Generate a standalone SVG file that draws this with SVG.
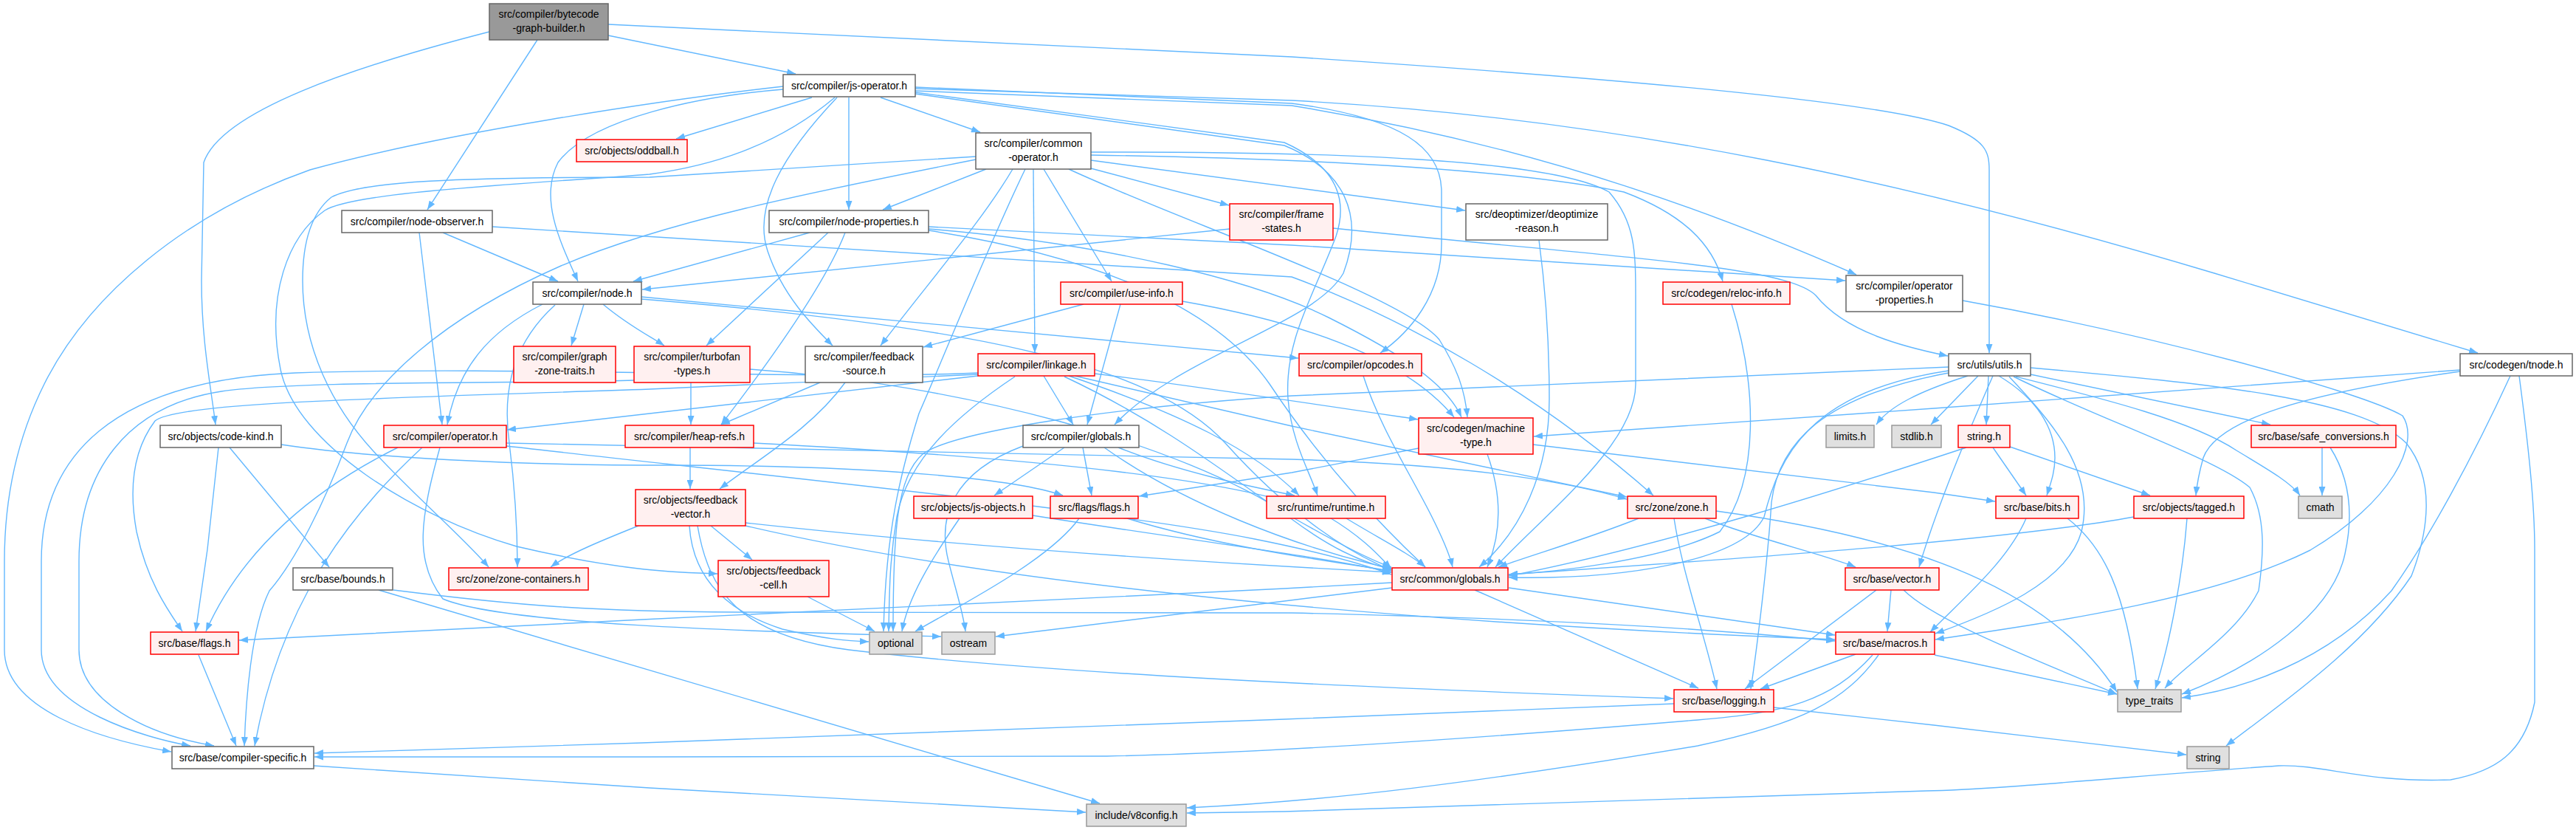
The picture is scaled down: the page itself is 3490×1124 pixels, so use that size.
<svg xmlns="http://www.w3.org/2000/svg" width="3490" height="1124" viewBox="0 0 3490 1124">
<style>
.e{fill:none;stroke:#63b8ff;stroke-width:1.4;marker-end:url(#a)}
.w rect{fill:#ffffff;stroke:#666666;stroke-width:1.5}
.r rect{fill:#fff0f0;stroke:#ff0000;stroke-width:1.5}
.g rect{fill:#e0e0e0;stroke:#999999;stroke-width:1.5}
.root rect{fill:#999999;stroke:#666666;stroke-width:1.5}
text{font-family:"Liberation Sans",Arial,sans-serif;font-size:14px;fill:#000;text-anchor:middle}
</style>
<defs>
<marker id="a" viewBox="0 0 12 9" refX="12" refY="4.5" markerWidth="12" markerHeight="9" markerUnits="userSpaceOnUse" orient="auto"><path d="M0,0 L12,4.5 L0,9 z" fill="#63b8ff"/></marker>
</defs>
<rect width="3490" height="1124" fill="#ffffff"/>
<g id="edges">
<path class="e" d="M824,48 L1078,100"/>
<path class="e" d="M728,54 L579,284"/>
<path class="e" d="M663,43 C480,90 300,150 276,220 L273,380 C273,460 285,520 292,575"/>
<path class="e" d="M824,33 L1750,77 C2250,110 2550,140 2640,170 C2690,190 2695,205 2695,230 L2695,478"/>
<path class="e" d="M1100,132 L916,188"/>
<path class="e" d="M1193,132 L1328,179"/>
<path class="e" d="M1150,132 L1150,284"/>
<path class="e" d="M1061,117 C900,135 600,180 420,230 C250,290 120,400 60,520 C20,600 6,680 6,760 L6,880 C6,960 130,1000 232,1018"/>
<path class="e" d="M1061,121 C950,130 800,160 756,220 C730,270 760,330 783,381"/>
<path class="e" d="M1134,132 C1060,210 1020,280 1040,340 C1060,400 1100,440 1128,468"/>
<path class="e" d="M1131,132 C1050,200 960,225 880,236 C700,250 480,260 440,285 C390,320 360,400 380,500 C400,600 560,700 700,740 C850,775 920,775 972,777"/>
<path class="e" d="M1240,120 L1750,136 C2200,160 2600,250 3000,370 L3357,478"/>
<path class="e" d="M1240,123 L1750,143 C2100,200 2350,300 2515,372"/>
<path class="e" d="M1240,118 L1750,140 C1900,160 1953,200 1953,260 L1953,330 C1953,400 1910,450 1870,478"/>
<path class="e" d="M1240,125 L1740,193 C1800,220 1830,260 1810,320 C1780,400 1740,460 1745,540 C1750,600 1775,640 1785,671"/>
<path class="e" d="M1240,127 L1740,197 C1820,230 1850,290 1820,370 C1780,440 1600,480 1510,575"/>
<path class="e" d="M1336,229 L1196,284"/>
<path class="e" d="M1478,228 L1665,278"/>
<path class="e" d="M1478,217 L1985,285"/>
<path class="e" d="M1414,229 L1506,381"/>
<path class="e" d="M1400,229 L1402,478"/>
<path class="e" d="M1372,229 C1330,300 1260,380 1193,468"/>
<path class="e" d="M1389,229 C1340,330 1280,480 1245,560 C1220,640 1200,720 1197,855"/>
<path class="e" d="M1478,210 C1800,215 2050,230 2200,260 C2280,290 2320,330 2334,381"/>
<path class="e" d="M1478,206 C1800,205 2100,215 2180,260 C2215,300 2216,340 2216,400 L2216,520 C2216,600 2100,690 2026,768"/>
<path class="e" d="M1448,229 C1600,300 1900,400 1950,460 C1975,500 1985,530 1988,565"/>
<path class="e" d="M1322,212 L880,240 C620,240 490,245 449,267 C420,290 410,330 410,380 C410,470 450,550 505,610 C560,670 630,730 662,768"/>
<path class="e" d="M1322,216 C1100,260 900,300 760,360 C600,430 500,520 470,600 C440,680 400,760 365,800 C340,850 333,950 331,1010"/>
<path class="e" d="M1097,315 L858,381"/>
<path class="e" d="M1122,315 L957,468"/>
<path class="e" d="M1145,315 C1120,380 1050,480 977,575"/>
<path class="e" d="M1258,307 L1750,332 L2500,380"/>
<path class="e" d="M1258,310 C1500,330 1700,380 1800,430 C1900,480 1960,520 1980,565"/>
<path class="e" d="M1258,312 C1500,350 1650,420 1720,520 C1800,640 1880,720 1931,768"/>
<path class="e" d="M600,315 L756,381"/>
<path class="e" d="M568,315 L599,575"/>
<path class="e" d="M667,307 L1750,375 C1900,430 2080,530 2240,671"/>
<path class="e" d="M791,412 L774,468"/>
<path class="e" d="M817,412 C850,440 880,455 900,468"/>
<path class="e" d="M735,412 C660,450 620,500 606,575"/>
<path class="e" d="M752,413 C700,460 679,520 690,600 C700,680 701,730 701,768"/>
<path class="e" d="M869,402 L1759,485"/>
<path class="e" d="M869,405 C1300,440 1560,490 1660,600 C1750,700 1830,750 1885,772"/>
<path class="e" d="M539,606 C430,660 330,740 279,855"/>
<path class="e" d="M572,606 C470,700 380,820 345,1010"/>
<path class="e" d="M596,606 C570,700 560,760 600,811 C680,845 1000,855 1275,862"/>
<path class="e" d="M686,600 L1750,622 C1950,628 2100,645 2204,676"/>
<path class="e" d="M686,604 C1000,640 1500,690 1700,730 C1800,750 1850,765 1885,778"/>
<path class="e" d="M296,606 L281,744 L265,855"/>
<path class="e" d="M311,606 L446,768"/>
<path class="e" d="M381,602 C500,620 700,630 900,630 C1200,630 1380,650 1440,671"/>
<path class="e" d="M533,799 C700,820 800,828 1000,829 L1750,830 C2200,840 2400,860 2486,868"/>
<path class="e" d="M513,799 L1490,1088"/>
<path class="e" d="M269,887 L320,1010"/>
<path class="e" d="M425,1037 L880,1067 L1471,1100"/>
<path class="e" d="M963,712 L1019,758"/>
<path class="e" d="M934,712 C937,760 960,820 1060,852 C1120,866 1150,868 1177,869"/>
<path class="e" d="M870,710 C820,730 770,750 746,768"/>
<path class="e" d="M1010,708 C1300,740 1600,760 1885,775"/>
<path class="e" d="M945,712 C960,800 1000,860 1150,880 C1400,910 1800,930 2267,946"/>
<path class="e" d="M1010,712 C1300,780 1800,840 2486,866"/>
<path class="e" d="M935,606 L935,662"/>
<path class="e" d="M1021,600 C1400,620 1700,650 1800,700 C1850,730 1870,755 1885,770"/>
<path class="e" d="M1111,518 L977,575"/>
<path class="e" d="M1145,518 C1100,580 1030,620 975,662"/>
<path class="e" d="M936,518 L936,575"/>
<path class="e" d="M859,515 C700,520 400,515 300,530 C170,550 107,640 107,760 L107,880 C107,950 200,995 290,1010"/>
<path class="e" d="M1325,509 L880,560 L687,582"/>
<path class="e" d="M1325,507 L880,527 C500,540 240,545 210,570 C180,610 174,660 185,720 C200,790 230,830 247,855"/>
<path class="e" d="M1325,505 C1100,515 700,495 400,505 C150,515 56,620 56,760 L56,880 C56,960 200,1000 258,1010"/>
<path class="e" d="M1414,509 L1454,575"/>
<path class="e" d="M1483,506 C1600,520 1800,550 1921,568"/>
<path class="e" d="M1456,509 L1750,577 C1950,620 2100,650 2204,673"/>
<path class="e" d="M1448,509 C1600,560 1700,610 1760,671"/>
<path class="e" d="M1442,510 C1570,570 1660,640 1750,703 C1800,740 1840,760 1885,771"/>
<path class="e" d="M1375,510 C1300,560 1230,620 1215,700 C1205,760 1205,800 1204,855"/>
<path class="e" d="M1442,606 L1347,671"/>
<path class="e" d="M1467,606 L1479,671"/>
<path class="e" d="M1515,606 C1600,640 1700,660 1754,671"/>
<path class="e" d="M1386,604 C1290,640 1270,700 1285,760 C1295,800 1305,830 1308,855"/>
<path class="e" d="M1496,606 C1600,680 1750,740 1885,770"/>
<path class="e" d="M1300,702 C1260,760 1230,810 1222,855"/>
<path class="e" d="M1399,698 C1600,730 1800,755 1885,775"/>
<path class="e" d="M1462,702 C1420,760 1300,820 1240,855"/>
<path class="e" d="M1527,702 C1650,740 1800,760 1885,773"/>
<path class="e" d="M1824,702 C1870,730 1910,750 1931,768"/>
<path class="e" d="M1847,509 C1870,580 1910,640 1940,700 C1960,740 1965,755 1968,768"/>
<path class="e" d="M1922,607 L1750,640 L1543,672"/>
<path class="e" d="M2077,602 L2620,667 L2703,679"/>
<path class="e" d="M2015,615 C2035,670 2035,720 2015,768"/>
<path class="e" d="M2346,412 C2380,520 2385,650 2330,720 C2250,760 2100,775 2044,778"/>
<path class="e" d="M2085,325 C2095,400 2099,480 2099,540 C2099,640 2060,720 2004,768"/>
<path class="e" d="M2220,702 C2150,730 2080,750 2030,768"/>
<path class="e" d="M2268,702 C2280,780 2310,860 2326,933"/>
<path class="e" d="M2310,702 C2380,730 2470,750 2514,768"/>
<path class="e" d="M2325,692 C2600,730 2780,800 2868,937"/>
<path class="e" d="M2700,606 L2745,671"/>
<path class="e" d="M2723,605 L2913,671"/>
<path class="e" d="M2664,606 C2500,660 2250,740 2044,780"/>
<path class="e" d="M2666,509 C2600,530 2560,550 2542,575"/>
<path class="e" d="M2680,509 L2616,575"/>
<path class="e" d="M2694,509 L2691,575"/>
<path class="e" d="M2708,509 C2760,540 2784,580 2784,620 C2784,640 2778,655 2773,671"/>
<path class="e" d="M2751,507 L3076,575"/>
<path class="e" d="M2731,510 C2850,540 2970,570 3030,610 C3080,640 3105,655 3116,671"/>
<path class="e" d="M2728,510 C2850,570 3000,620 3048,660 C3070,700 3067,750 3060,800 C3030,860 2960,900 2933,932"/>
<path class="e" d="M2751,498 C3000,520 3200,540 3260,600 C3300,650 3290,720 3267,780 C3200,880 3080,960 3016,1010"/>
<path class="e" d="M2722,510 C2778,570 2840,637 2820,720 C2800,790 2700,830 2622,858"/>
<path class="e" d="M2640,505 C2469,537 2410,600 2400,680 C2395,760 2380,880 2372,933"/>
<path class="e" d="M2700,509 C2660,600 2620,700 2600,768"/>
<path class="e" d="M2640,502 C2450,530 2410,620 2390,700 C2360,760 2200,785 2044,782"/>
<path class="e" d="M2640,497 L1750,536 C1500,552 1290,585 1250,615 C1215,645 1210,720 1210,855"/>
<path class="e" d="M3333,501 L2620,553 L2078,591"/>
<path class="e" d="M3333,503 C3115,534 3003,570 2985,620 C2978,645 2976,660 2975,671"/>
<path class="e" d="M3401,509 C3350,620 3290,730 3240,800 C3150,900 3030,935 2956,945"/>
<path class="e" d="M3413,509 C3425,600 3434,680 3434,744 L3434,951 C3420,1020 3380,1045 3320,1056 C3200,1060 3150,1035 3087,1037 C2900,1050 2700,1070 2610,1071 L1740,1099 L1608,1101"/>
<path class="e" d="M1998,799 L2301,932"/>
<path class="e" d="M2044,796 L2486,860"/>
<path class="e" d="M1886,789 L1740,797 L870,839 L324,867"/>
<path class="e" d="M1886,796 L1740,814 L1349,862"/>
<path class="e" d="M2542,799 L2364,933"/>
<path class="e" d="M2562,799 L2557,855"/>
<path class="e" d="M2579,799 C2620,840 2750,890 2868,940"/>
<path class="e" d="M2514,886 L2385,933"/>
<path class="e" d="M2537,887 C2480,950 2420,965 2300,975 C2000,1000 1700,1020 1500,1024 L880,1025 L426,1025"/>
<path class="e" d="M2545,887 C2500,950 2440,980 2300,1010 C2000,1060 1800,1085 1608,1094"/>
<path class="e" d="M2621,887 L2868,940"/>
<path class="e" d="M2268,953 L1740,974 L870,1006 L426,1020"/>
<path class="e" d="M2403,958 L2620,982 L2962,1022"/>
<path class="e" d="M2745,702 C2720,760 2660,810 2615,856"/>
<path class="e" d="M2801,702 C2850,740 2880,800 2896,933"/>
<path class="e" d="M2891,700 C2700,735 2300,760 2044,778"/>
<path class="e" d="M2963,702 C2957,780 2940,870 2920,933"/>
<path class="e" d="M3146,606 L3146,671"/>
<path class="e" d="M3157,606 C3185,650 3188,700 3177,750 C3160,830 3060,900 2956,940"/>
<path class="e" d="M1094,808 L1185,855"/>
<path class="e" d="M2659,407 C2900,450 3200,530 3255,563 C3280,600 3240,680 3130,745 C3000,810 2800,840 2622,866"/>
<path class="e" d="M1666,310 C1300,350 1000,380 870,392"/>
<path class="e" d="M1806,309 C2200,350 2420,360 2460,400 C2500,450 2580,470 2639,482"/>
<path class="e" d="M1468,412 L1251,470"/>
<path class="e" d="M1518,412 L1473,575"/>
<path class="e" d="M1602,408 C1750,434 1900,480 1970,565"/>
<path class="e" d="M1016,500 C1300,520 1600,600 1750,700 C1820,740 1860,760 1885,768"/>
</g>
<g id="n_bcgb" class="root"><rect x="663" y="5" width="161" height="49"/><text x="743.5" y="23.5">src/compiler/bytecode</text><text x="743.5" y="42.5">-graph-builder.h</text></g>
<g id="n_jsop" class="w"><rect x="1061" y="101" width="179" height="30"/><text x="1150.5" y="121">src/compiler/js-operator.h</text></g>
<g id="n_nobs" class="w"><rect x="463" y="285" width="204" height="30"/><text x="565" y="305">src/compiler/node-observer.h</text></g>
<g id="n_codekind" class="w"><rect x="217" y="576" width="164" height="30"/><text x="299" y="596">src/objects/code-kind.h</text></g>
<g id="n_utils" class="w"><rect x="2640" y="479" width="111" height="30"/><text x="2695.5" y="499">src/utils/utils.h</text></g>
<g id="n_oddball" class="r"><rect x="781" y="189" width="150" height="30"/><text x="856" y="209">src/objects/oddball.h</text></g>
<g id="n_commop" class="w"><rect x="1322" y="180" width="156" height="49"/><text x="1400" y="198.5">src/compiler/common</text><text x="1400" y="217.5">-operator.h</text></g>
<g id="n_nprops" class="w"><rect x="1042" y="285" width="216" height="30"/><text x="1150" y="305">src/compiler/node-properties.h</text></g>
<g id="n_frames" class="r"><rect x="1666" y="276" width="140" height="49"/><text x="1736" y="294.5">src/compiler/frame</text><text x="1736" y="313.5">-states.h</text></g>
<g id="n_deopt" class="w"><rect x="1986" y="276" width="192" height="49"/><text x="2082" y="294.5">src/deoptimizer/deoptimize</text><text x="2082" y="313.5">-reason.h</text></g>
<g id="n_opprops" class="w"><rect x="2501" y="373" width="158" height="49"/><text x="2580" y="391.5">src/compiler/operator</text><text x="2580" y="410.5">-properties.h</text></g>
<g id="n_node" class="w"><rect x="722" y="382" width="147" height="30"/><text x="795.5" y="402">src/compiler/node.h</text></g>
<g id="n_gzt" class="r"><rect x="696" y="469" width="138" height="49"/><text x="765" y="487.5">src/compiler/graph</text><text x="765" y="506.5">-zone-traits.h</text></g>
<g id="n_turbo" class="r"><rect x="859" y="469" width="157" height="49"/><text x="937.5" y="487.5">src/compiler/turbofan</text><text x="937.5" y="506.5">-types.h</text></g>
<g id="n_fsrc" class="w"><rect x="1091" y="469" width="159" height="49"/><text x="1170.5" y="487.5">src/compiler/feedback</text><text x="1170.5" y="506.5">-source.h</text></g>
<g id="n_useinfo" class="r"><rect x="1437" y="382" width="165" height="30"/><text x="1519.5" y="402">src/compiler/use-info.h</text></g>
<g id="n_linkage" class="r"><rect x="1325" y="479" width="158" height="30"/><text x="1404" y="499">src/compiler/linkage.h</text></g>
<g id="n_cglobals" class="w"><rect x="1386" y="576" width="157" height="30"/><text x="1464.5" y="596">src/compiler/globals.h</text></g>
<g id="n_heaprefs" class="r"><rect x="847" y="576" width="174" height="30"/><text x="934" y="596">src/compiler/heap-refs.h</text></g>
<g id="n_operator" class="r"><rect x="520" y="576" width="166" height="30"/><text x="603" y="596">src/compiler/operator.h</text></g>
<g id="n_fvec" class="r"><rect x="861" y="663" width="149" height="49"/><text x="935.5" y="681.5">src/objects/feedback</text><text x="935.5" y="700.5">-vector.h</text></g>
<g id="n_jsobj" class="r"><rect x="1238" y="672" width="161" height="30"/><text x="1318.5" y="692">src/objects/js-objects.h</text></g>
<g id="n_fflags" class="r"><rect x="1423" y="672" width="119" height="30"/><text x="1482.5" y="692">src/flags/flags.h</text></g>
<g id="n_runtime" class="r"><rect x="1716" y="672" width="161" height="30"/><text x="1796.5" y="692">src/runtime/runtime.h</text></g>
<g id="n_reloc" class="r"><rect x="2253" y="382" width="172" height="30"/><text x="2339" y="402">src/codegen/reloc-info.h</text></g>
<g id="n_opcodes" class="r"><rect x="1760" y="479" width="166" height="30"/><text x="1843" y="499">src/compiler/opcodes.h</text></g>
<g id="n_mtype" class="r"><rect x="1922" y="566" width="155" height="49"/><text x="1999.5" y="584.5">src/codegen/machine</text><text x="1999.5" y="603.5">-type.h</text></g>
<g id="n_zone" class="r"><rect x="2205" y="672" width="120" height="30"/><text x="2265" y="692">src/zone/zone.h</text></g>
<g id="n_limits" class="g"><rect x="2474" y="576" width="65" height="30"/><text x="2506.5" y="596">limits.h</text></g>
<g id="n_stdlib" class="g"><rect x="2563" y="576" width="67" height="30"/><text x="2596.5" y="596">stdlib.h</text></g>
<g id="n_tnode" class="w"><rect x="3333" y="479" width="152" height="30"/><text x="3409" y="499">src/codegen/tnode.h</text></g>
<g id="n_stringh" class="r"><rect x="2653" y="576" width="70" height="30"/><text x="2688" y="596">string.h</text></g>
<g id="n_safeconv" class="r"><rect x="3050" y="576" width="196" height="30"/><text x="3148" y="596">src/base/safe_conversions.h</text></g>
<g id="n_bits" class="r"><rect x="2704" y="672" width="112" height="30"/><text x="2760" y="692">src/base/bits.h</text></g>
<g id="n_tagged" class="r"><rect x="2891" y="672" width="149" height="30"/><text x="2965.5" y="692">src/objects/tagged.h</text></g>
<g id="n_cmath" class="g"><rect x="3114" y="672" width="59" height="30"/><text x="3143.5" y="692">cmath</text></g>
<g id="n_bounds" class="w"><rect x="397" y="769" width="135" height="30"/><text x="464.5" y="789">src/base/bounds.h</text></g>
<g id="n_zonecont" class="r"><rect x="608" y="769" width="189" height="30"/><text x="702.5" y="789">src/zone/zone-containers.h</text></g>
<g id="n_bflags" class="r"><rect x="204" y="856" width="119" height="30"/><text x="263.5" y="876">src/base/flags.h</text></g>
<g id="n_cspec" class="w"><rect x="233" y="1011" width="192" height="30"/><text x="329" y="1031">src/base/compiler-specific.h</text></g>
<g id="n_fcell" class="r"><rect x="973" y="759" width="150" height="49"/><text x="1048" y="777.5">src/objects/feedback</text><text x="1048" y="796.5">-cell.h</text></g>
<g id="n_optional" class="g"><rect x="1178" y="856" width="71" height="30"/><text x="1213.5" y="876">optional</text></g>
<g id="n_ostream" class="g"><rect x="1276" y="856" width="72" height="30"/><text x="1312" y="876">ostream</text></g>
<g id="n_v8config" class="g"><rect x="1472" y="1089" width="135" height="30"/><text x="1539.5" y="1109">include/v8config.h</text></g>
<g id="n_globals" class="r"><rect x="1886" y="769" width="157" height="30"/><text x="1964.5" y="789">src/common/globals.h</text></g>
<g id="n_vector" class="r"><rect x="2500" y="769" width="127" height="30"/><text x="2563.5" y="789">src/base/vector.h</text></g>
<g id="n_macros" class="r"><rect x="2487" y="856" width="134" height="30"/><text x="2554" y="876">src/base/macros.h</text></g>
<g id="n_logging" class="r"><rect x="2268" y="934" width="135" height="30"/><text x="2335.5" y="954">src/base/logging.h</text></g>
<g id="n_typetraits" class="g"><rect x="2869" y="934" width="86" height="30"/><text x="2912" y="954">type_traits</text></g>
<g id="n_string" class="g"><rect x="2963" y="1011" width="57" height="30"/><text x="2991.5" y="1031">string</text></g>
</svg>
